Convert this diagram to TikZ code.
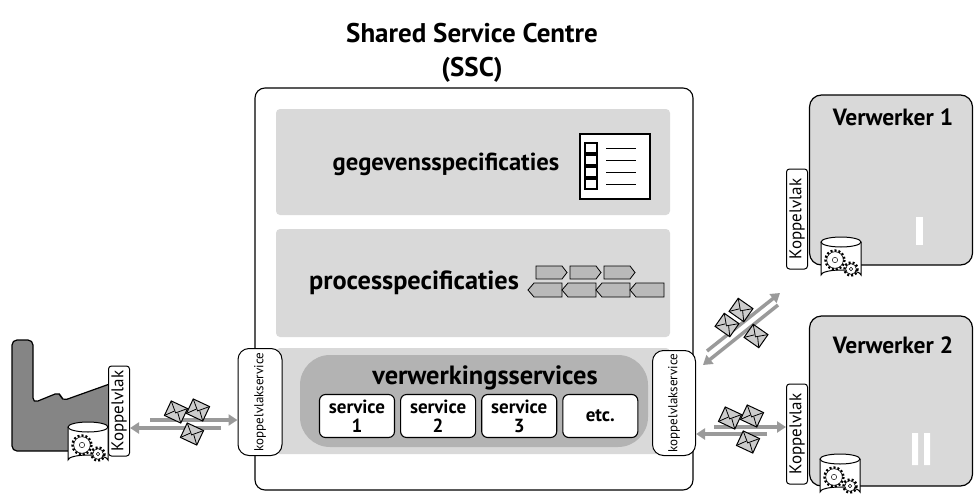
\documentclass[tikz,border=0pt]{standalone}
\usepackage{fontspec}
\setmainfont{PT Sans}
\usepackage{tikz}
\usetikzlibrary{positioning,arrows.meta}
\definecolor{panelgray}{HTML}{D9D9D9}
\definecolor{capsule}{HTML}{B3B3B3}
\definecolor{factory}{HTML}{858585}
\definecolor{flow}{HTML}{9A9A9A}
\tikzset{
    panel/.style={rectangle, rounded corners=4, fill=panelgray, inner sep=0},
    service/.style={rectangle, rounded corners=6, draw, fill=white, line width=1.1pt,
        minimum width=75, minimum height=43, align=center, font=\bfseries\fontsize{19}{19}\selectfont, inner sep=0},
    koppel/.style={rectangle, rounded corners=11, draw, fill=white, line width=1pt,
        rotate=90, inner sep=0, font=\fontsize{13}{13}\selectfont},
    vlak/.style={rectangle, rounded corners=3, draw, fill=white, line width=1pt,
        rotate=90, inner sep=0, minimum width=100, minimum height=21, font=\fontsize{17}{17}\selectfont},
    verwerker/.style={rectangle, rounded corners=12, draw, fill=panelgray, line width=1.2pt,
        minimum width=163, minimum height=170, inner sep=0},
    flowline/.style={draw=flow, line width=3.5pt, -{Triangle[length=9pt,width=11pt]}},
    title/.style={font=\bfseries\fontsize{27}{34}\selectfont},
    vtitle/.style={font=\bfseries\fontsize{23.5}{24}\selectfont}
}
% envelope: centre x, centre y, angle
\newcommand{\mail}[3]{%
  \begin{scope}[shift={(#1,#2)}, rotate=#3]
    \draw[line width=1pt, fill=gray!40] (-9,-8) rectangle (9,8);
    \draw[line width=0.8pt] (-9,-8) -- (0,1) -- (9,-8);
    \draw[line width=0.8pt] (-9,8) -- (-2,0) (9,8) -- (2,0);
  \end{scope}}
% gear: centre x, centre y, radius
\newcommand{\gear}[3]{%
  \draw[line width=2.4pt, dash pattern=on 2pt off 2pt] (#1,#2) circle (#3);
  \draw[line width=0.6pt, fill=white] (#1,#2) circle (#3-1.2);
  \draw[line width=0.5pt] (#1,#2) circle (#3*0.28);}
% database drum with two gears
\tikzset{
    drum/.pic={
      \draw[line width=1pt, fill=white] (-20,-16) -- (-20,17)
          arc[start angle=180, end angle=360, x radius=20, y radius=5] -- (20,-16);
      \draw[line width=1pt, fill=white] (0,-16) ellipse (20 and 5);
      \gear{-6}{2}{9.5}
      \gear{10}{11}{6.5}
    }
}
\begin{document}
\begin{tikzpicture}[x=1pt, y=-1pt]
    \useasboundingbox (0,0) rectangle (976,495);

    % title
    \node[title, align=center] (ssctitle) at (472,53) {Shared Service Centre\\(SSC)};

    % shared service centre frame
    \node[rectangle, rounded corners=10, draw, line width=1.1pt, minimum width=438,
        minimum height=402, inner sep=0] (ssc) at (474,289) {};

    % data specifications
    \node[panel, minimum width=394, minimum height=106] (gegevens) at (473,162) {};
    \node[font=\bfseries\fontsize{24.6}{25}\selectfont] (gegtext) at (446,164) {gegevensspecificaties};
    \draw[line width=2pt, fill=white] (580,134) rectangle (650,199);
    \foreach \y in {143,155,167,179} {
        \draw[line width=1.2pt] (585,\y) rectangle (597,\y+10);
        \draw[line width=1pt] (606,\y+5) -- (636,\y+5);
    }

    % process specifications
    \node[panel, minimum width=394, minimum height=108] (process) at (473,283) {};
    \node[font=\bfseries\fontsize{26.3}{27}\selectfont] (proctext) at (414,283) {processpecificaties};
    \foreach \x in {536,570,604} {
        \draw[fill=gray!55, line width=0.8pt] (\x,266) -- (\x+26,266) -- (\x+31,272.5)
            -- (\x+26,279) -- (\x,279) -- cycle;
    }
    \foreach \x in {528,562,596,630} {
        \draw[fill=gray!55, line width=0.8pt] (\x,290) -- (\x+6,283) -- (\x+34,283)
            -- (\x+34,297) -- (\x+6,297) -- cycle;
    }

    % processing services
    \node[panel, minimum width=394, minimum height=106] (verwerking) at (473,401) {};
    \node[rectangle, rounded corners=30, fill=capsule, minimum width=348,
        minimum height=92, inner sep=0] (capsule) at (474,401) {};
    \node[font=\bfseries\fontsize{26.4}{27}\selectfont] (verwtext) at (485,378) {verwerkingsservices};
    \node[service] (s1) at (357,416) {service\\1};
    \node[service, right=5 of s1] (s2) {service\\2};
    \node[service, right=5 of s2] (s3) {service\\3};
    \node[service, right=5 of s3] (etc) {etc.};

    % interface services on the frame
    \node[koppel, minimum width=107, minimum height=44] (kvsleft) at (260,402) {koppelvlakservice};
    \node[koppel, minimum width=105, minimum height=43] (kvsright) at (674,403) {koppelvlakservice};

    % processors
    \node[verwerker] (verw1) at (891,180) {};
    \node[vtitle] (verw1title) at (893,117) {Verwerker 1};
    \fill[white] (916,217) rectangle (923,245);
    \node[vlak] (kv1) at (797,219) {Koppelvlak};
    \pic at (841,258) {drum};

    \node[verwerker] (verw2) at (891,401) {};
    \node[vtitle] (verw2title) at (893,345) {Verwerker 2};
    \fill[white] (912,433) rectangle (918,465) (924,433) rectangle (930,465);
    \node[vlak] (kv2) at (797,434) {Koppelvlak};
    \pic at (840,475) {drum};

    % source organisation
    \draw[fill=factory, line width=1.2pt, rounded corners=5]
        (12,451) -- (12,340) -- (33,340) -- (33,403) -- (60,392) -- (62,401)
        -- (118,381) -- (118,451) -- cycle;
    \node[vlak, minimum width=90] (kv0) at (119,411) {Koppelvlak};
    \pic at (88,443) {drum};

    % message flows
    \coordinate (l1) at (150,420);
    \coordinate (l2) at (221,428);
    \draw[flowline] (l1) -- (kvsleft.north |- l1);
    \draw[flowline] (l2) -- (kv0.south |- l2);
    \mail{176}{412}{-25}
    \mail{198}{410}{-25}
    \mail{192}{434}{-25}

    \coordinate (r1) at (714,427);
    \coordinate (r2) at (767,434);
    \draw[flowline] (r1) -- (kv2.north |- r1);
    \draw[flowline] (r2) -- (kvsright.south |- r2);
    \mail{730}{418}{-25}
    \mail{752}{416}{-25}
    \mail{748}{442}{-25}

    \coordinate (d1) at (707,351);
    \coordinate (d2) at (780,293);
    \coordinate (d3) at (778,305);
    \coordinate (d4) at (703,365);
    \draw[flowline] (d1) -- (d2);
    \draw[flowline] (d3) -- (d4);
    \mail{741}{310}{-35}
    \mail{727}{325}{-35}
    \mail{756}{336}{-35}
\end{tikzpicture}
\end{document}
